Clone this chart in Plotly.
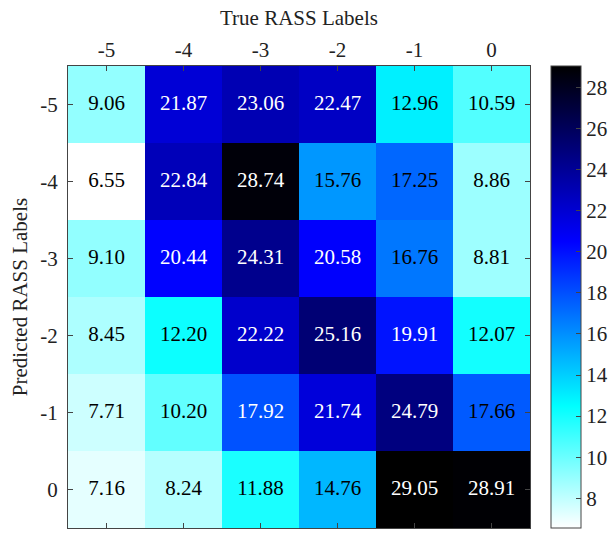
import plotly.graph_objects as go

true_labels = ["-5", "-4", "-3", "-2", "-1", "0"]
pred_labels = ["-5", "-4", "-3", "-2", "-1", "0"]
values = [
    [9.06, 21.87, 23.06, 22.47, 12.96, 10.59],
    [6.55, 22.84, 28.74, 15.76, 17.25, 8.86],
    [9.10, 20.44, 24.31, 20.58, 16.76, 8.81],
    [8.45, 12.20, 22.22, 25.16, 19.91, 12.07],
    [7.71, 10.20, 17.92, 21.74, 24.79, 17.66],
    [7.16, 8.24, 11.88, 14.76, 29.05, 28.91],
]
cbar_ticks = [8, 10, 12, 14, 16, 18, 20, 22, 24, 26, 28]

FONT = "Liberation Serif, Times New Roman, serif"
FS = 21
colorscale = [
    [0.0, "rgb(255,255,255)"],
    [0.264, "rgb(0,255,255)"],
    [0.62, "rgb(0,0,255)"],
    [1.0, "rgb(0,0,0)"],
]
vals_flat = [v for row in values for v in row]
zmin, zmax = min(vals_flat), max(vals_flat)

fig = go.Figure()
fig.add_trace(go.Heatmap(
    z=values, x=true_labels, y=pred_labels,
    colorscale=colorscale, zmin=zmin, zmax=zmax,
    xgap=0, ygap=0,
    colorbar=dict(
        x=1.0455, xanchor="left", xpad=0, ypad=0,
        y=0.5, yanchor="middle", len=1.0, lenmode="fraction",
        thickness=30, thicknessmode="pixels",
        outlinecolor="#444", outlinewidth=1,
        tickmode="array", tickvals=cbar_ticks,
        ticks="inside", ticklen=5, tickcolor="#444",
        tickfont=dict(family=FONT, size=FS, color="#222"),
    ),
    hoverinfo="skip",
))

xs, ys, txt, cols = [], [], [], []
for i, yl in enumerate(pred_labels):
    for j, xl in enumerate(true_labels):
        v = values[i][j]
        xs.append(xl)
        ys.append(yl)
        txt.append(f"{v:.2f}")
        cols.append("white" if v > 17.8 else "black")
fig.add_trace(go.Scatter(
    x=xs, y=ys, text=txt, mode="text",
    textfont=dict(family=FONT, size=FS, color=cols),
    hoverinfo="skip", showlegend=False,
))

fig.update_layout(
    width=613, height=533,
    margin=dict(l=68, r=83, t=66, b=5, autoexpand=False),
    paper_bgcolor="white", plot_bgcolor="white",
    font=dict(family=FONT, size=FS, color="#222"),
    showlegend=False,
)
fig.update_xaxes(
    side="top", type="category",
    title=dict(text="True RASS Labels", font=dict(family=FONT, size=FS), standoff=6),
    showline=True, linecolor="#444", linewidth=1, mirror="ticks",
    ticks="inside", ticklen=5, tickcolor="#444",
    tickfont=dict(family=FONT, size=FS), showgrid=False, zeroline=False,
)
fig.update_yaxes(
    type="category", autorange="reversed",
    title=dict(text="Predicted RASS Labels", font=dict(family=FONT, size=FS), standoff=6),
    showline=True, linecolor="#444", linewidth=1, mirror="ticks",
    ticks="inside", ticklen=5, tickcolor="#444", ticklabelstandoff=5,
    tickfont=dict(family=FONT, size=FS), showgrid=False, zeroline=False,
)

fig.write_html("out.html")
